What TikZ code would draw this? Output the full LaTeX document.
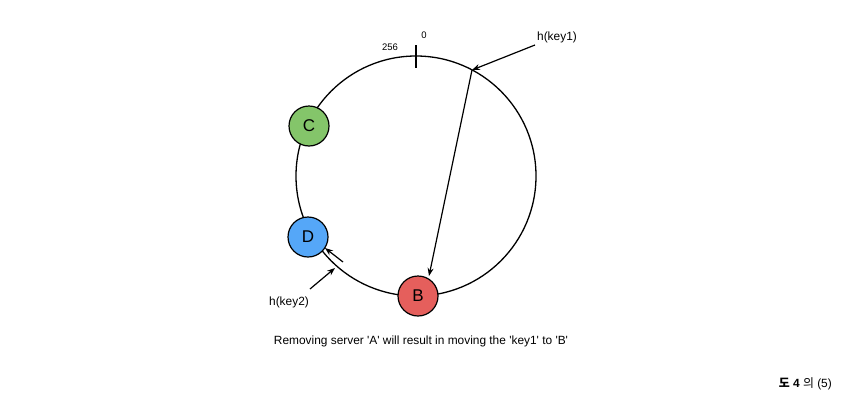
\documentclass[tikz,border=0pt]{standalone}
\usepackage{fontspec}
\setmainfont{Liberation Sans}
\newfontfamily\kr{Noto Sans CJK KR}
\usetikzlibrary{arrows.meta}
\definecolor{cgreen}{HTML}{84C56A}
\definecolor{cblue}{HTML}{55A7F8}
\definecolor{cred}{HTML}{E55F5C}
\tikzset{
  server/.style={circle,draw=black,line width=1.2pt,minimum size=40pt,inner sep=0pt,font=\fontsize{17}{17}\selectfont},
  arr/.style={-{Stealth[length=8pt,width=6pt]},line width=1.2pt},
  lbl/.style={font=\fontsize{11.9}{14}\selectfont,inner sep=0pt},
  small/.style={font=\fontsize{9.5}{11}\selectfont,inner sep=0pt},
}
\begin{document}
\begin{tikzpicture}[x=1pt,y=-1pt]
\useasboundingbox (0,0) rectangle (845,402);
\coordinate (O) at (416,176);
\draw[line width=1.3pt] (O) circle[radius=120];
% tick
\coordinate (t1) at (416,45);
\coordinate (t2) at (416,68);
\draw[line width=1.3pt] (t1) -- (t2);
\node[small] (n256) at (390,47) {256};
\node[small] (n0) at (424,35) {0};
% servers
\node[server,fill=cgreen] (C) at (309,126) {C};
\node[server,fill=cblue] (D) at (308,237) {D};
\node[server,fill=cred] (B) at (418,296) {B};
% key1
\coordinate (k1) at (472,70);
\node[lbl] (hk1) at (557,37) {h(key1)};
\coordinate (hk1s) at (535,45);
\draw[arr] (hk1s) -- (k1);
\coordinate (k1e) at (429,276);
\draw[arr] (k1) -- (k1e);
% key2
\node[lbl] (hk2) at (289,302) {h(key2)};
\coordinate (hk2s) at (310,289);
\coordinate (k2) at (335,268);
\draw[arr] (hk2s) -- (k2);
\coordinate (k2a) at (343,262);
\coordinate (k2b) at (325,248);
\draw[arr] (k2a) -- (k2b);
% caption
\node[lbl] (cap) at (421,341) {Removing server \textquotesingle A\textquotesingle{} will result in moving the \textquotesingle key1\textquotesingle{} to \textquotesingle B\textquotesingle};
\node[lbl,anchor=east] (fig) at (832,384) {{\kr\bfseries 도} \textbf{4} {\kr 의} (5)};
\end{tikzpicture}
\end{document}
